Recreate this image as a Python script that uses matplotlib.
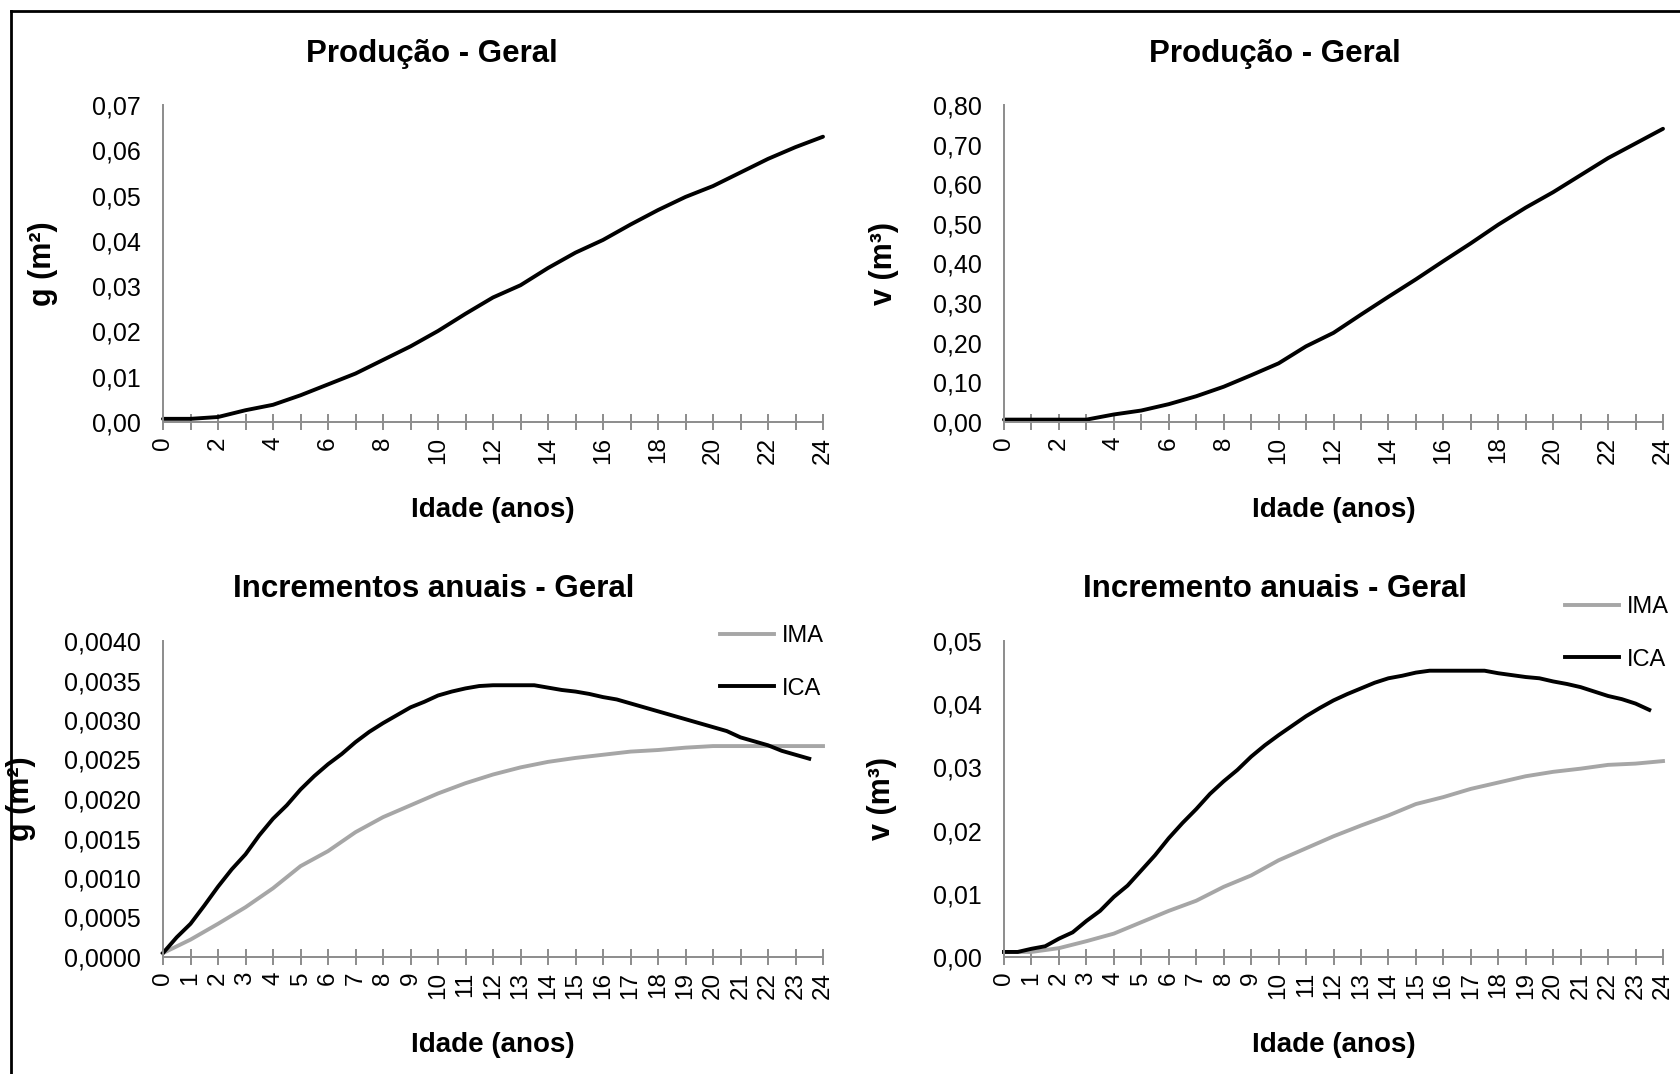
import matplotlib
matplotlib.use("Agg")
import matplotlib.pyplot as plt
from matplotlib.ticker import MultipleLocator, FuncFormatter
from matplotlib.lines import Line2D

plt.rcParams['font.family'] = ['Liberation Sans', 'DejaVu Sans']

# dados
idade = list(range(0, 25))
g_prod = [0.0007, 0.0007, 0.0011, 0.0026, 0.0038, 0.0059, 0.0083, 0.0107, 0.0137,
          0.0167, 0.0201, 0.0239, 0.0275, 0.0302, 0.0340, 0.0374, 0.0402, 0.0436,
          0.0468, 0.0497, 0.0521, 0.0551, 0.0581, 0.0607, 0.0630]
v_prod = [0.006, 0.006, 0.006, 0.006, 0.019, 0.029, 0.045, 0.065, 0.089, 0.118,
          0.148, 0.191, 0.225, 0.271, 0.316, 0.360, 0.406, 0.451, 0.498, 0.541,
          0.580, 0.623, 0.666, 0.703, 0.740]

# incrementos (ICA em meios anos)
idade_ica = [i / 2 for i in range(0, 48)]
g_ima = [0.00005, 0.00022, 0.00042, 0.00063, 0.00087, 0.00115, 0.00134, 0.00158,
         0.00177, 0.00192, 0.00207, 0.00220, 0.00231, 0.00240, 0.00247, 0.00252,
         0.00256, 0.00260, 0.00262, 0.00265, 0.00267, 0.00267, 0.00267, 0.00267,
         0.00267]
g_ica = [0.00005, 0.00025, 0.00042, 0.00065, 0.00089, 0.00111, 0.00130, 0.00154,
         0.00175, 0.00192, 0.00212, 0.00229, 0.00244, 0.00257, 0.00272, 0.00285,
         0.00296, 0.00306, 0.00316, 0.00323, 0.00331, 0.00336, 0.00340, 0.00343,
         0.00344, 0.00344, 0.00344, 0.00344, 0.00341, 0.00338, 0.00336, 0.00333,
         0.00329, 0.00326, 0.00321, 0.00316, 0.00311, 0.00306, 0.00301, 0.00296,
         0.00291, 0.00286, 0.00278, 0.00273, 0.00268, 0.00261, 0.00256, 0.00251]
v_ima = [0.0008, 0.0008, 0.0014, 0.0025, 0.0037, 0.0055, 0.0073, 0.0089, 0.0111,
         0.0129, 0.0153, 0.0172, 0.0191, 0.0208, 0.0224, 0.0242, 0.0253, 0.0266,
         0.0276, 0.0286, 0.0293, 0.0298, 0.0304, 0.0306, 0.0310]
v_ica = [0.0008, 0.0008, 0.0013, 0.0017, 0.0029, 0.0039, 0.0057, 0.0073, 0.0095,
         0.0113, 0.0137, 0.0161, 0.0188, 0.0212, 0.0234, 0.0258, 0.0278, 0.0296,
         0.0317, 0.0335, 0.0351, 0.0366, 0.0381, 0.0394, 0.0406, 0.0416, 0.0425,
         0.0434, 0.0441, 0.0445, 0.0450, 0.0453, 0.0453, 0.0453, 0.0453, 0.0453,
         0.0449, 0.0446, 0.0443, 0.0441, 0.0436, 0.0432, 0.0427, 0.0420, 0.0413,
         0.0408, 0.0401, 0.0391]

W, H = 1680, 1074
fig = plt.figure(figsize=(W / 100, H / 100), dpi=100)

cinza_eixo = '#8c8c8c'
cinza_ima = '#a6a6a6'


def px(x, y):
    return x / W, 1 - y / H


def fmt(dec):
    return FuncFormatter(lambda v, p: (('%.' + str(dec) + 'f') % v).replace('.', ','))


def estilo(ax, ymax, ystep, dec, xstep):
    for s in ['top', 'right']:
        ax.spines[s].set_visible(False)
    for s in ['left', 'bottom']:
        ax.spines[s].set_color(cinza_eixo)
        ax.spines[s].set_linewidth(1.4)
    ax.set_xlim(0, 24)
    ax.set_ylim(0, ymax)
    ax.yaxis.set_major_locator(MultipleLocator(ystep))
    ax.yaxis.set_major_formatter(fmt(dec))
    ax.xaxis.set_major_locator(MultipleLocator(xstep))
    ax.xaxis.set_minor_locator(MultipleLocator(1))
    ax.tick_params(axis='y', length=0, pad=16, labelsize=18)
    ax.tick_params(axis='x', which='both', direction='inout', length=11, width=1.4,
                   color=cinza_eixo, labelsize=17.5, pad=5, labelrotation=90)


paineis = [
    dict(rect=(163, 105, 823, 422), tx=432, ty=54, yl='g (m²)', ylx=43, ymax=0.07, ystep=0.01, dec=2, xstep=2),
    dict(rect=(1004, 105, 1663, 422), tx=1275, ty=54, yl='v (m³)', ylx=884, ymax=0.80, ystep=0.10, dec=2, xstep=2),
    dict(rect=(163, 641, 823, 957), tx=434, ty=589, yl='g (m²)', ylx=21, ymax=0.0040, ystep=0.0005, dec=4, xstep=1),
    dict(rect=(1004, 641, 1663, 957), tx=1275, ty=589, yl='v (m³)', ylx=882, ymax=0.05, ystep=0.01, dec=2, xstep=1),
]
titulos = ['Produção - Geral', 'Produção - Geral',
           'Incrementos anuais - Geral', 'Incremento anuais - Geral']

axes = []
for p, titulo in zip(paineis, titulos):
    x0, y0, x1, y1 = p['rect']
    ax = fig.add_axes([x0 / W, 1 - y1 / H, (x1 - x0) / W, (y1 - y0) / H])
    estilo(ax, p['ymax'], p['ystep'], p['dec'], p['xstep'])
    fig.text(*px(p['tx'], p['ty']), titulo, ha='center', va='center',
             fontsize=22.5, fontweight='bold')
    ax.set_ylabel(p['yl'], fontsize=22, fontweight='bold')
    ax.yaxis.set_label_coords(*px(p['ylx'], (y0 + y1) / 2), transform=fig.transFigure)
    ax.yaxis.label.set_va('center')
    ax.set_xlabel('Idade (anos)', fontsize=20, fontweight='bold')
    ax.xaxis.set_label_coords(*px((x0 + x1) / 2, y1 + 88), transform=fig.transFigure)
    ax.xaxis.label.set_va('center')
    axes.append(ax)

lw = 2.8
axes[0].plot(idade, g_prod, color='black', lw=lw, solid_capstyle='round', clip_on=False)
axes[1].plot(idade, v_prod, color='black', lw=lw, solid_capstyle='round', clip_on=False)

axes[2].plot(idade, g_ima, color=cinza_ima, lw=lw, label='IMA', clip_on=False)
axes[2].plot(idade_ica, g_ica, color='black', lw=lw, label='ICA', clip_on=False)
axes[3].plot(idade, v_ima, color=cinza_ima, lw=lw, label='IMA', clip_on=False)
axes[3].plot(idade_ica, v_ica, color='black', lw=lw, label='ICA', clip_on=False)

for ax, (lx, ly) in zip(axes[2:], [(720, 625), (1565, 596)]):
    ax.legend(loc='upper left', bbox_to_anchor=px(lx, ly), bbox_transform=fig.transFigure,
              frameon=False, fontsize=17, borderpad=0, borderaxespad=0,
              handlelength=2.3, handletextpad=0.3, labelspacing=1.3)

# moldura (so esquerda e topo aparecem)
fig.add_artist(Line2D([11 / W, 11 / W], [0, 1 - 11 / H], color='black', lw=2, transform=fig.transFigure))
fig.add_artist(Line2D([11 / W, 1], [1 - 11 / H, 1 - 11 / H], color='black', lw=2, transform=fig.transFigure))

fig.savefig('out.png', dpi=100)
